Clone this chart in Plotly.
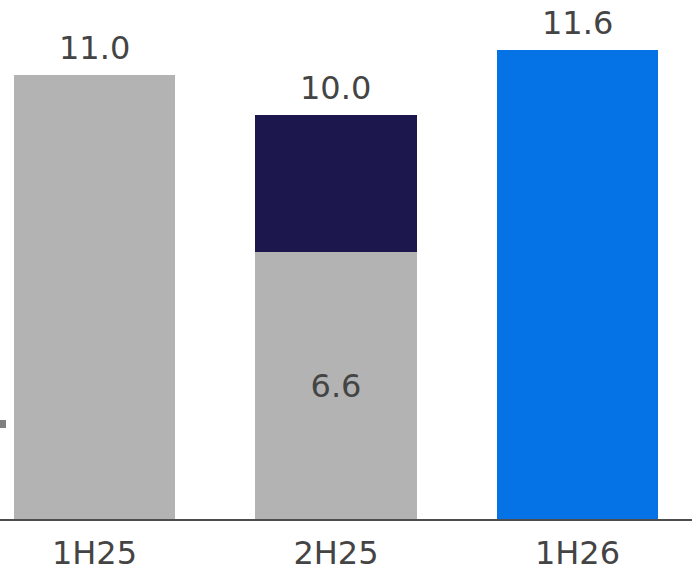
import plotly.graph_objects as go

categories = ["1H25", "2H25", "1H26"]
base_values = [11.0, 6.6, None]
added_values = [None, 3.4, None]
new_values = [None, None, 11.6]
total_labels = ["11.0", "10.0", "11.6"]
inside_labels = ["", "6.6", ""]
totals = [11.0, 10.0, 11.6]

GRAY = "#b3b3b3"
NAVY = "#1c174d"
BLUE = "#0572e6"
TXT = "#444444"
FONT = "DejaVu Sans"

fig = go.Figure()
fig.add_trace(go.Bar(x=categories, y=base_values, marker_color=GRAY, marker_line_width=0,
                     text=inside_labels, textposition="inside", insidetextanchor="middle",
                     textfont=dict(family=FONT, size=32, color=TXT), cliponaxis=False))
fig.add_trace(go.Bar(x=categories, y=added_values, marker_color=NAVY, marker_line_width=0))
fig.add_trace(go.Bar(x=categories, y=new_values, marker_color=BLUE, marker_line_width=0))

for cat, tot, lab in zip(categories, totals, total_labels):
    fig.add_annotation(x=cat, y=tot, text=lab, showarrow=False, yanchor="bottom",
                       yshift=6, font=dict(family=FONT, size=32, color=TXT))

fig.add_shape(type="rect", xref="paper", yref="paper", x0=0, x1=6/692,
              y0=(519-428)/519, y1=(519-420)/519, fillcolor="#808080", line_width=0)

fig.update_layout(
    width=692, height=575,
    margin=dict(l=0, r=0, t=0, b=56, autoexpand=False),
    barmode="stack", bargap=0.333,
    showlegend=False,
    plot_bgcolor="white", paper_bgcolor="white",
    font=dict(family=FONT, size=32, color=TXT),
)
fig.update_xaxes(range=[-0.391, 2.474], showline=True, linecolor="#4d4d4d", linewidth=2,
                 showgrid=False, ticks="", tickfont=dict(family=FONT, size=32, color=TXT),
                 automargin=False, ticklabelstandoff=5, fixedrange=True)
fig.update_yaxes(range=[0, 12.85], visible=False, showgrid=False, zeroline=False,
                 automargin=False, fixedrange=True)

fig.write_html("out.html", config={"displayModeBar": False},
               post_script="document.body.style.margin='0';")
